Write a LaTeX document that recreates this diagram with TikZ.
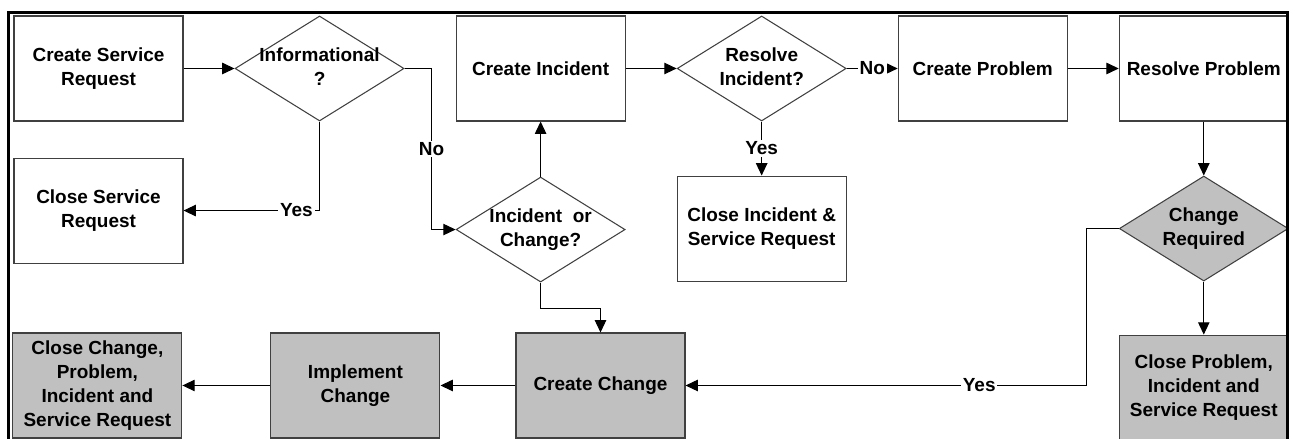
\documentclass[tikz,border=0pt]{standalone}
\usepackage{fontspec}
\setmainfont{Liberation Sans}
\usetikzlibrary{positioning, arrows.meta, shapes.geometric}
\definecolor{boxgray}{RGB}{192,192,192}
% zero-width text block so the diamond keeps its fixed size
\newcommand{\dtxt}[1]{\makebox[0pt]{\begin{tabular}{@{}c@{}}#1\end{tabular}}}
\tikzset{
    procbox/.style={rectangle, draw=black!75, fill=white, minimum width=3.38cm, minimum height=2.1cm, align=center, font=\fontsize{10.8}{13.6}\selectfont\bfseries, line width=0.6pt, inner sep=1pt},
    procgray/.style={procbox, fill=boxgray},
    decision/.style={diamond, draw=black!75, fill=white, minimum width=3.38cm, minimum height=2.1cm, inner sep=0pt, font=\fontsize{10.8}{13.6}\selectfont\bfseries, line width=0.6pt},
    decisiongray/.style={decision, fill=boxgray},
    arr/.style={-{Triangle[length=7pt, width=6.5pt]}, line width=0.6pt},
    lbl/.style={fill=white, inner sep=1pt, font=\fontsize{10.8}{13.6}\selectfont\bfseries}
}
\begin{document}
\begin{tikzpicture}[node distance=1.02cm]
    \useasboundingbox (0,0) rectangle (25.78,8.78);
    % top row
    \node[procbox] at (1.97,7.41) (createSR) {Create Service\\Request};
    \node[decision, right=of createSR] (dInfo) {\dtxt{Informational\\?}};
    \node[procbox, right=of dInfo] (createInc) {Create Incident};
    \node[decision, right=of createInc] (dResolve) {\dtxt{Resolve\\Incident?}};
    \node[procbox, right=of dResolve] (createProb) {Create Problem};
    \node[procbox, right=of createProb] (resolveProb) {Resolve Problem};
    % middle row
    \node[procbox, below=0.72cm of createSR] (closeSR) {Close Service\\Request};
    \node[decision, below=1.1cm of createInc] (dIoC) {\dtxt{Incident\ \ or\\Change?}};
    \node[procbox, below=1.08cm of dResolve] (closeInc) {Close Incident \&\\Service Request};
    \node[decisiongray, below=1.08cm of resolveProb] (dChange) {\dtxt{Change\\Required}};
    % bottom row
    \node[procgray, below=1.06cm of dChange] (closeProb) {Close Problem,\\Incident and\\Service Request};
    \node[procgray] at (12.01,1.07) (createChg) {Create Change};
    \node[procgray, left=1.5cm of createChg] (implChg) {Implement\\Change};
    \node[procgray, left=1.76cm of implChg] (closeChg) {Close Change,\\Problem,\\Incident and\\Service Request};
    % connectors
    \draw[arr] (createSR) -- (dInfo);
    \draw[arr] (dInfo.south) |- node[lbl, pos=0.585] {Yes} (closeSR.east);
    \draw[arr] (dInfo.east) -- ++(0.54,0) |- node[lbl, pos=0.25] {No} (dIoC.west);
    \draw[arr] (dIoC) -- (createInc);
    \draw[arr] (createInc) -- (dResolve);
    \draw[arr] (dResolve) -- node[lbl] {Yes} (closeInc);
    \draw[arr] (dResolve) -- node[lbl] {No} (createProb);
    \draw[arr] (createProb) -- (resolveProb);
    \draw[arr] (resolveProb) -- (dChange);
    \draw[arr] (dChange) -- (closeProb);
    \draw[arr] (dChange.west) -- ++(-0.64,0) |- node[lbl, pos=0.634] {Yes} (createChg.east);
    \draw[arr] (dIoC.south) -- ++(0,-0.52) -| (createChg.north);
    \draw[arr] (createChg) -- (implChg);
    \draw[arr] (implChg) -- (closeChg);
    % outer frame on top
    \draw[line width=1.7pt] (0.17,-0.2) rectangle (25.75,8.53);
\end{tikzpicture}
\end{document}
